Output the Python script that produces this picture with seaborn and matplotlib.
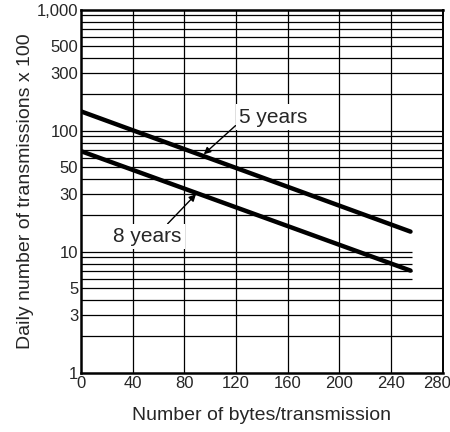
import numpy as np
import pandas as pd
import matplotlib
matplotlib.use("Agg")
import matplotlib.pyplot as plt
import matplotlib.transforms as mtransforms
import seaborn as sns

# Data
bytes_x = [0, 255]
five_years = [145, 14.7]
eight_years = [68, 7.0]
x_ticks = [0, 40, 80, 120, 160, 200, 240, 280]
y_ticks = [1, 3, 5, 10, 30, 50, 100, 300, 500, 1000]
y_tick_labels = ["1", "3", "5", "10", "30", "50", "100", "300", "500", "1,000"]

sns.set_style("white")
plt.rcParams['font.family'] = ['Liberation Sans', 'DejaVu Sans']

df = pd.DataFrame({
    "x": bytes_x + bytes_x,
    "y": five_years + eight_years,
    "series": ["5 years"] * 2 + ["8 years"] * 2,
})

fig = plt.figure(figsize=(4.5, 4.32), dpi=100)
ax = fig.add_axes([0.18, 0.137, 0.804, 0.84])

ax.set_yscale("log")
ax.set_xlim(0, 280)
ax.set_ylim(1, 1000)

# grid: vertical every 40, horizontal full log grid
for xv in x_ticks[1:-1]:
    ax.axvline(xv, color="black", lw=0.9, zorder=1)
for dec in [1, 10, 100]:
    for m in range(1, 10):
        v = dec * m
        if v <= 1 or v >= 1000:
            continue
        if (dec == 1 and m >= 6) or v == 10:
            ax.hlines(v, 0, 256, color="black", lw=0.9, zorder=1)
        else:
            ax.axhline(v, color="black", lw=0.9, zorder=1)

sns.lineplot(data=df, x="x", y="y", hue="series", palette=["black", "black"],
             linewidth=3.2, legend=False, ax=ax, zorder=3)

ax.set_xticks(x_ticks)
ax.set_xticklabels([str(t) for t in x_ticks], fontsize=12)
ax.set_yticks(y_ticks)
ax.set_yticklabels(y_tick_labels, fontsize=12)
ax.minorticks_off()
ax.tick_params(axis="both", length=0, pad=2)
last = ax.get_xticklabels()[-1]
last.set_transform(last.get_transform() +
                   mtransforms.ScaledTranslation(-6 / 100, 0, fig.dpi_scale_trans))

ax.set_xlabel("Number of bytes/transmission", fontsize=14, labelpad=12)
ax.set_ylabel("Daily number of transmissions x 100", fontsize=14, labelpad=2)

for s in ["left", "bottom", "top"]:
    ax.spines[s].set_linewidth(1.8)
    ax.spines[s].set_color("black")
ax.spines["right"].set_linewidth(1.4)
ax.spines["right"].set_color("black")

ax.annotate("5 years", xy=(95, 64), xytext=(122, 130), fontsize=15,
            va="center", ha="left",
            arrowprops=dict(arrowstyle="-|>", color="black", lw=1.0,
                            shrinkA=0, shrinkB=0, mutation_scale=10,
                            relpos=(0.0, 0.2)),
            bbox=dict(boxstyle="square,pad=0.15", fc="white", ec="none"),
            zorder=5)
ax.annotate("8 years", xy=(89, 30), xytext=(25, 13.4), fontsize=15,
            va="center", ha="left",
            arrowprops=dict(arrowstyle="-|>", color="black", lw=1.0,
                            shrinkA=0, shrinkB=0, mutation_scale=10,
                            relpos=(0.75, 1.0)),
            bbox=dict(boxstyle="square,pad=0.15", fc="white", ec="none"),
            zorder=5)

fig.savefig("out.png", dpi=100)
